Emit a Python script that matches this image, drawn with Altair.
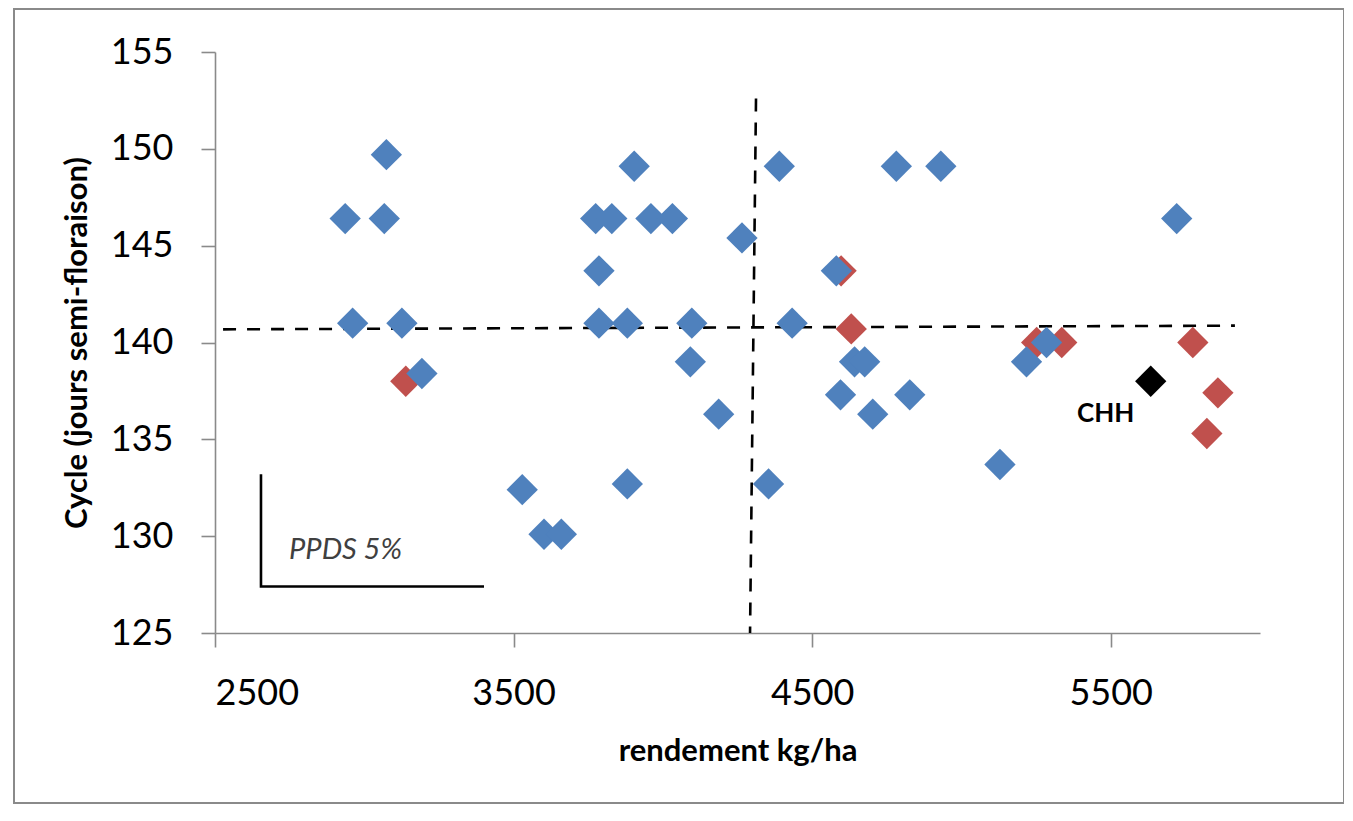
import altair as alt
import pandas as pd

# ---- data ----
blue_x = [2936, 2961, 3067, 3074, 3126, 3193, 3529, 3602, 3660, 3775, 3786, 3786,
          3829, 3881, 3881, 3904, 3960, 4032, 4092, 4097, 4187, 4265, 4354, 4390,
          4433, 4581, 4595, 4642, 4676, 4703, 4782, 4827, 4931, 5129, 5218, 5285, 5721]
blue_y = [146.4, 141.0, 146.4, 149.7, 141.0, 138.4, 132.4, 130.1, 130.1, 146.4, 143.7, 141.0,
          146.4, 141.0, 132.7, 149.1, 146.4, 146.4, 139.0, 141.0, 136.3, 145.4, 132.7, 149.1,
          141.0, 143.7, 137.3, 139.0, 139.0, 136.3, 149.1, 137.3, 149.1, 133.7, 139.0, 140.0, 146.4]

red_x = [3139, 4597, 4631, 5252, 5336, 5775, 5859, 5822]
red_y = [138.0, 143.7, 140.7, 140.0, 140.0, 140.0, 137.4, 135.3]

chh_x = [5634]
chh_y = [138.0]
chh_label = ["CHH"]
chh_label_x = [5483]
chh_label_y = [136.3]

# mean lines (dashed)
h_line_x = [2527, 5916]
h_line_y = [140.68, 140.87]
v_line_x = [4312, 4292]
v_line_y = [152.6, 125.0]

# PPDS 5% bracket
ppds_x = [2654, 2654, 3401]
ppds_y = [133.2, 127.4, 127.4]
ppds_label = ["PPDS 5%"]
ppds_label_x = [2748]
ppds_label_y = [129.3]

x_ticks = [2500, 3500, 4500, 5500]
y_ticks = [125, 130, 135, 140, 145, 150, 155]

FONT = "Lato"
BLUE = "#4F81BD"
RED = "#C0504D"

xs = alt.Scale(domain=[2500, 6000], nice=False, zero=False)
ys = alt.Scale(domain=[125, 155], nice=False, zero=False)

x_axis = alt.Axis(values=x_ticks, format="d", title="rendement kg/ha", grid=False,
                  labelFontSize=36, labelFont=FONT, labelColor="#000000",
                  labelPadding=29, tickSize=14,
                  titleFont=FONT, titleFontSize=31, titleFontWeight="bold",
                  titleColor="#000000", titleY=118.7, titleBaseline="middle",
                  titleAlign="center")
y_axis = alt.Axis(values=y_ticks, format="d", title="Cycle (jours semi-floraison)", grid=False,
                  labelFontSize=36, labelFont=FONT, labelColor="#000000",
                  labelPadding=28, tickSize=14,
                  titleFont=FONT, titleFontSize=31, titleFontWeight="bold",
                  titleColor="#000000", titleX=-138, titleY=290.5, titleAngle=270,
                  titleBaseline="middle", titleAlign="center")

frame = alt.Chart(pd.DataFrame({"a": [0]})).mark_rect(
    fill="transparent", stroke="#8a8a8a", strokeWidth=2
).encode(x=alt.value(-201), x2=alt.value(1129), y=alt.value(-43), y2=alt.value(751))

red_df = pd.DataFrame({"x": red_x, "y": red_y})
blue_df = pd.DataFrame({"x": blue_x, "y": blue_y})
chh_df = pd.DataFrame({"x": chh_x, "y": chh_y})

def pts(df, color):
    return alt.Chart(df).mark_point(shape="diamond", filled=True, size=980,
                                    color=color, opacity=1, strokeWidth=0).encode(
        x=alt.X("x:Q", scale=xs, axis=x_axis),
        y=alt.Y("y:Q", scale=ys, axis=y_axis),
    )

hline = alt.Chart(pd.DataFrame({"x": [h_line_x[0]], "x2": [h_line_x[1]],
                                "y": [h_line_y[0]], "y2": [h_line_y[1]]})).mark_rule(
    color="#000000", strokeWidth=2.6, strokeDash=[13, 11]
).encode(x=alt.X("x:Q", scale=xs), x2="x2:Q", y=alt.Y("y:Q", scale=ys), y2="y2:Q")

vline = alt.Chart(pd.DataFrame({"x": [v_line_x[0]], "x2": [v_line_x[1]],
                                "y": [v_line_y[0]], "y2": [v_line_y[1]]})).mark_rule(
    color="#000000", strokeWidth=2.6, strokeDash=[13, 11]
).encode(x=alt.X("x:Q", scale=xs), x2="x2:Q", y=alt.Y("y:Q", scale=ys), y2="y2:Q")

ppds = alt.Chart(pd.DataFrame({"x": ppds_x, "y": ppds_y, "o": [0, 1, 2]})).mark_line(
    color="#000000", strokeWidth=2.6
).encode(x=alt.X("x:Q", scale=xs), y=alt.Y("y:Q", scale=ys), order="o:Q")

ppds_text = alt.Chart(pd.DataFrame({"x": ppds_label_x, "y": ppds_label_y,
                                    "t": ppds_label})).mark_text(
    font=FONT, fontSize=29, fontStyle="italic", color="#404040",
    align="left", baseline="middle"
).encode(x=alt.X("x:Q", scale=xs), y=alt.Y("y:Q", scale=ys), text="t:N")

chh_text = alt.Chart(pd.DataFrame({"x": chh_label_x, "y": chh_label_y,
                                   "t": chh_label})).mark_text(
    font=FONT, fontSize=26, fontWeight="bold", color="#000000",
    align="center", baseline="middle"
).encode(x=alt.X("x:Q", scale=xs), y=alt.Y("y:Q", scale=ys), text="t:N")

chart = alt.layer(
    frame, hline, vline, ppds, ppds_text,
    pts(red_df, RED), pts(blue_df, BLUE), pts(chh_df, "#000000"),
    chh_text
).properties(
    width=1045, height=581,
    autosize=alt.AutoSizeParams(type="none"),
    padding={"left": 207, "top": 44, "right": 84, "bottom": 172},
    background="white",
).configure_view(stroke=None).configure_axis(
    domainColor="#8a8a8a", domainWidth=1.6, tickColor="#8a8a8a", tickWidth=1.6
)

chart.save("out.html", embed_options={"renderer": "svg", "actions": False})
